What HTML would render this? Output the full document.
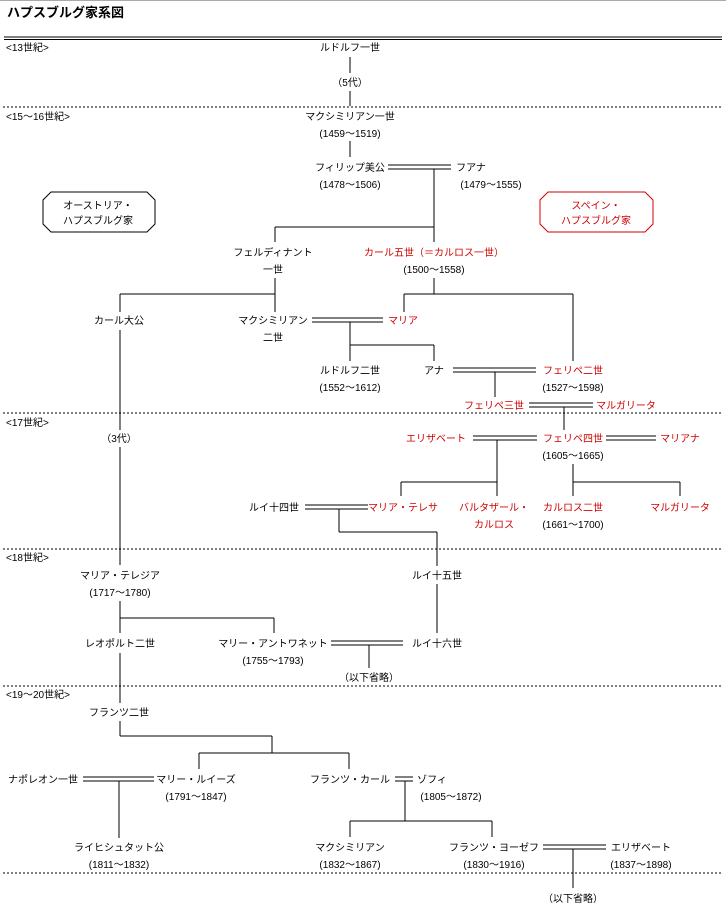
<!DOCTYPE html>
<html><head><meta charset="utf-8"><style>
html,body{margin:0;padding:0;background:#fff;}
svg{display:block;}
text{font-family:"Liberation Sans","Noto Sans CJK JP",sans-serif;font-size:10px;fill:#000;}
.r{fill:#d00000;}
.l{font-size:10px;}
</style></head><body>
<svg width="726" height="910" viewBox="0 0 726 910" xmlns="http://www.w3.org/2000/svg">
<line x1="0" y1="0.5" x2="726" y2="0.5" stroke="#aaa" stroke-width="1"/>
<text x="7" y="17" style="font-size:13px;font-weight:bold">ハプスブルグ家系図</text>
<g stroke="#000" stroke-width="1" fill="none">
<line x1="4" y1="37" x2="722" y2="37"/><line x1="4" y1="39.5" x2="722" y2="39.5"/>
<g stroke-dasharray="2,2">
<line x1="3" y1="107" x2="722" y2="107"/>
<line x1="3" y1="413" x2="722" y2="413"/>
<line x1="3" y1="549" x2="722" y2="549"/>
<line x1="3" y1="686" x2="722" y2="686"/>
<line x1="3" y1="873" x2="722" y2="873"/>
</g>
<!-- 13-16 -->
<line x1="350" y1="57" x2="350" y2="73"/><line x1="350" y1="91" x2="350" y2="106"/>
<line x1="350" y1="141" x2="350" y2="157"/>
<line x1="388" y1="165" x2="451" y2="165"/><line x1="388" y1="169" x2="451" y2="169"/>
<line x1="434" y1="169" x2="434" y2="242"/>
<line x1="275" y1="227" x2="434" y2="227"/><line x1="275" y1="227" x2="275" y2="242"/>
<line x1="275" y1="278" x2="275" y2="294"/><line x1="434" y1="278" x2="434" y2="294"/>
<line x1="120" y1="294" x2="275" y2="294"/><line x1="404" y1="294" x2="573" y2="294"/>
<line x1="120" y1="294" x2="120" y2="312"/><line x1="275" y1="294" x2="275" y2="312"/>
<line x1="404" y1="294" x2="404" y2="312"/><line x1="573" y1="294" x2="573" y2="361"/>
<line x1="312" y1="318" x2="383" y2="318"/><line x1="312" y1="322" x2="383" y2="322"/>
<line x1="350" y1="322" x2="350" y2="361"/>
<line x1="350" y1="345" x2="434" y2="345"/><line x1="434" y1="345" x2="434" y2="361"/>
<line x1="453" y1="368" x2="536" y2="368"/><line x1="453" y1="372" x2="536" y2="372"/>
<line x1="495" y1="372" x2="495" y2="397"/>
<line x1="529" y1="403" x2="593" y2="403"/><line x1="529" y1="407" x2="593" y2="407"/>
<line x1="564" y1="407" x2="564" y2="430"/>
<!-- 17 -->
<line x1="120" y1="330" x2="120" y2="430"/><line x1="120" y1="447" x2="120" y2="565"/>
<line x1="473" y1="436" x2="537" y2="436"/><line x1="473" y1="440" x2="537" y2="440"/>
<line x1="606" y1="436" x2="656" y2="436"/><line x1="606" y1="440" x2="656" y2="440"/>
<line x1="497" y1="440" x2="497" y2="496"/>
<line x1="401" y1="482" x2="497" y2="482"/><line x1="401" y1="482" x2="401" y2="496"/>
<line x1="573" y1="464" x2="573" y2="496"/>
<line x1="573" y1="482" x2="680" y2="482"/><line x1="680" y1="482" x2="680" y2="496"/>
<line x1="305" y1="505" x2="368" y2="505"/><line x1="305" y1="509" x2="368" y2="509"/>
<line x1="339" y1="509" x2="339" y2="532"/>
<line x1="339" y1="532" x2="437" y2="532"/><line x1="437" y1="532" x2="437" y2="566"/>
<!-- 18 -->
<line x1="437" y1="584" x2="437" y2="633"/>
<line x1="120" y1="601" x2="120" y2="633"/>
<line x1="120" y1="618" x2="274" y2="618"/><line x1="274" y1="618" x2="274" y2="633"/>
<line x1="331" y1="641" x2="403" y2="641"/><line x1="331" y1="645" x2="403" y2="645"/>
<line x1="369" y1="645" x2="369" y2="668"/>
<line x1="120" y1="653" x2="120" y2="703"/>
<!-- 19-20 -->
<line x1="120" y1="721" x2="120" y2="736"/>
<line x1="120" y1="736" x2="272" y2="736"/><line x1="272" y1="736" x2="272" y2="753"/>
<line x1="199" y1="753" x2="349" y2="753"/>
<line x1="199" y1="753" x2="199" y2="769"/><line x1="349" y1="753" x2="349" y2="769"/>
<line x1="83" y1="777" x2="154" y2="777"/><line x1="83" y1="781" x2="154" y2="781"/>
<line x1="119" y1="781" x2="119" y2="838"/>
<line x1="395" y1="777" x2="413" y2="777"/><line x1="395" y1="781" x2="413" y2="781"/>
<line x1="405" y1="781" x2="405" y2="821"/>
<line x1="350" y1="821" x2="492" y2="821"/>
<line x1="350" y1="821" x2="350" y2="837"/><line x1="492" y1="821" x2="492" y2="837"/>
<line x1="543" y1="845" x2="606" y2="845"/><line x1="543" y1="849" x2="606" y2="849"/>
<line x1="573" y1="849" x2="573" y2="888"/>
<!-- boxes -->
<polygon points="51,192 147,192 155,200 155,224 147,232 51,232 43,224 43,200"/>
<polygon points="548,192 645,192 653,200 653,224 645,232 548,232 540,224 540,200" stroke="#d00000"/>
</g>
<!-- labels -->
<text x="6" y="51">&lt;13世紀&gt;</text>
<text x="6" y="120">&lt;15〜16世紀&gt;</text>
<text x="6" y="426">&lt;17世紀&gt;</text>
<text x="6" y="561">&lt;18世紀&gt;</text>
<text x="6" y="698">&lt;19〜20世紀&gt;</text>
<g text-anchor="middle">
<text x="98" y="209">オーストリア・</text><text x="98" y="224">ハプスブルグ家</text>
<text x="596" y="209" class="r">スペイン・</text><text x="596" y="224" class="r">ハプスブルグ家</text>
<text x="350" y="51">ルドルフ一世</text>
<text x="350" y="86">（5代）</text>
<text x="350" y="120">マクシミリアン一世</text>
<text x="350" y="137">(1459〜1519)</text>
<text x="350" y="171">フィリップ美公</text>
<text x="350" y="188">(1478〜1506)</text>
<text x="471" y="171">フアナ</text>
<text x="491" y="188">(1479〜1555)</text>
<text x="273" y="256">フェルディナント</text>
<text x="273" y="273">一世</text>
<text x="434" y="256" class="r">カール五世（＝カルロス一世）</text>
<text x="434" y="273">(1500〜1558)</text>
<text x="119" y="324">カール大公</text>
<text x="273" y="324">マクシミリアン</text>
<text x="273" y="341">二世</text>
<text x="403" y="324" class="r">マリア</text>
<text x="350" y="374">ルドルフ二世</text>
<text x="350" y="391">(1552〜1612)</text>
<text x="434" y="374">アナ</text>
<text x="573" y="374" class="r">フェリペ二世</text>
<text x="573" y="391">(1527〜1598)</text>
<text x="494" y="409" class="r">フェリペ三世</text>
<text x="626" y="409" class="r">マルガリータ</text>
<text x="119" y="442">（3代）</text>
<text x="436" y="442" class="r">エリザベート</text>
<text x="573" y="442" class="r">フェリペ四世</text>
<text x="680" y="442" class="r">マリアナ</text>
<text x="573" y="459">(1605〜1665)</text>
<text x="274" y="511">ルイ十四世</text>
<text x="403" y="511" class="r">マリア・テレサ</text>
<text x="494" y="511" class="r">バルタザール・</text>
<text x="494" y="528" class="r">カルロス</text>
<text x="573" y="511" class="r">カルロス二世</text>
<text x="573" y="528">(1661〜1700)</text>
<text x="680" y="511" class="r">マルガリータ</text>
<text x="120" y="579">マリア・テレジア</text>
<text x="120" y="596">(1717〜1780)</text>
<text x="437" y="579">ルイ十五世</text>
<text x="120" y="647">レオポルト二世</text>
<text x="273" y="647">マリー・アントワネット</text>
<text x="273" y="664">(1755〜1793)</text>
<text x="437" y="647">ルイ十六世</text>
<text x="369" y="681">（以下省略）</text>
<text x="119" y="716">フランツ二世</text>
<text x="43" y="783">ナポレオン一世</text>
<text x="196" y="783">マリー・ルイーズ</text>
<text x="196" y="800">(1791〜1847)</text>
<text x="350" y="783">フランツ・カール</text>
<text x="432" y="783">ゾフィ</text>
<text x="451" y="800">(1805〜1872)</text>
<text x="119" y="851">ライヒシュタット公</text>
<text x="119" y="868">(1811〜1832)</text>
<text x="350" y="851">マクシミリアン</text>
<text x="350" y="868">(1832〜1867)</text>
<text x="494" y="851">フランツ・ヨーゼフ</text>
<text x="494" y="868">(1830〜1916)</text>
<text x="641" y="851">エリザベート</text>
<text x="641" y="868">(1837〜1898)</text>
<text x="573" y="902">（以下省略）</text>
</g>
</svg>
</body></html>
